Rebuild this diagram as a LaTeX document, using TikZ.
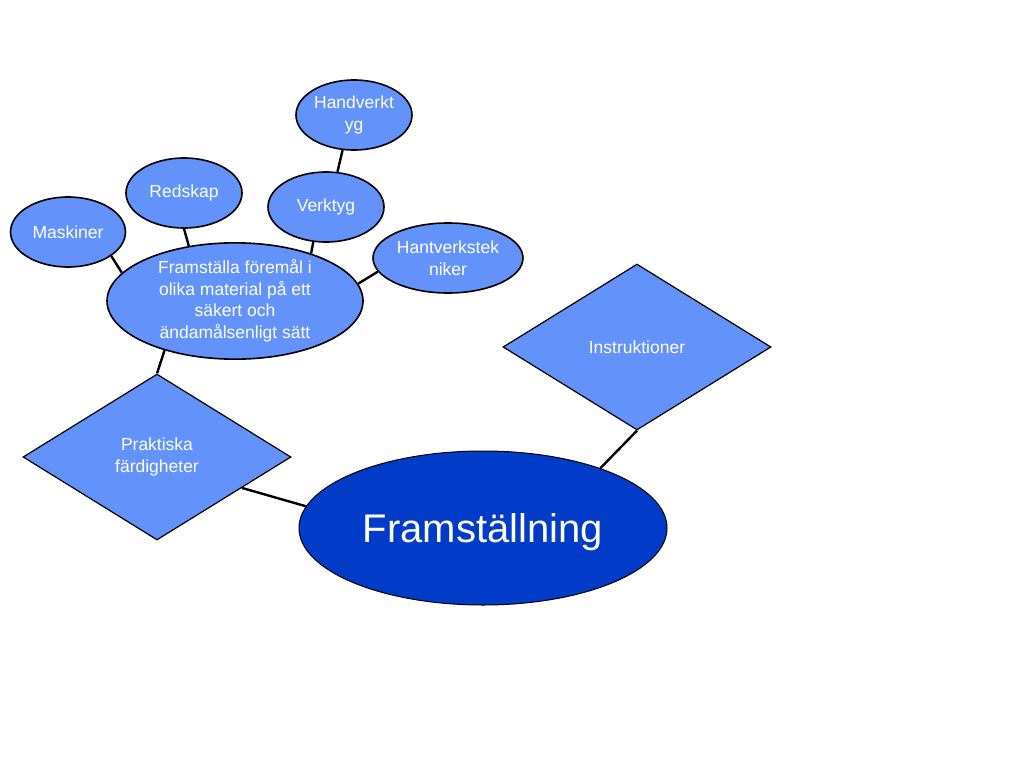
\documentclass[tikz,border=0pt]{standalone}
\usepackage{fontspec}
\setmainfont{Liberation Sans}
\usetikzlibrary{shapes.geometric}

\definecolor{leafblue}{RGB}{98,146,250}
\definecolor{coreblue}{RGB}{0,60,200}

\tikzset{
  leaf/.style={ellipse, draw=black, line width=1.6pt, fill=leafblue, text=white,
    inner sep=0pt, minimum width=116pt, minimum height=70pt, align=center,
    font=\fontsize{17.5}{21.5}\selectfont},
  facet/.style={diamond, draw=black, line width=1.2pt, fill=leafblue, text=white,
    inner sep=0pt, minimum width=268pt, minimum height=166pt, align=center,
    font=\fontsize{17.5}{21.5}\selectfont},
  core/.style={ellipse, draw=black, line width=1pt, fill=coreblue, text=white,
    inner sep=0pt, minimum width=368pt, minimum height=154pt, text depth=0pt,
    font=\fontsize{40}{48}\selectfont},
  link/.style={line width=2.4pt}
}

\begin{document}
\begin{tikzpicture}[x=1pt, y=-1pt]
        % Page frame
        \useasboundingbox (0,0) rectangle (1024,768);

        % Main topic and the two branches
        \node[core] (main) at (483,528) {Framställning};
        \node[facet] (instr) at (637,347) {Instruktioner};
        \node[facet] (prak) at (157,457) {Praktiska\\färdigheter};

        % Goal ellipse
        \node[leaf, minimum width=256pt, minimum height=112pt] (goal) at (235,301)
          {Framställa föremål i\\olika material på ett\\säkert och\\ändamålsenligt sätt};

        % Leaves round the goal
        \node[leaf, minimum width=115pt] (mask) at (68,232) {Maskiner};
        \node[leaf] (red) at (184,193) {Redskap};
        \node[leaf] (verk) at (326,207) {Verktyg};
        \node[leaf] (hand) at (354,115) {Handverkt\\yg};
        \node[leaf, minimum width=150pt] (tek) at (448,258) {Hantverkstek\\niker};

        % Connectors
        \draw[link] (instr.south) -- (main.27);
        \draw[link] (prak.-20) -- (main.173);
        \draw[link] (prak.north) -- (goal.-145);
        \draw[link] (mask.-29) -- (goal.166);
        \draw[link] (red.south) -- (goal.130);
        \draw[link] (verk.-110) -- (goal.32);
        \draw[link] (hand.-108) -- (verk.72);
        \draw[link] (tek.191) -- (goal.8);
    \end{tikzpicture}
\end{document}
